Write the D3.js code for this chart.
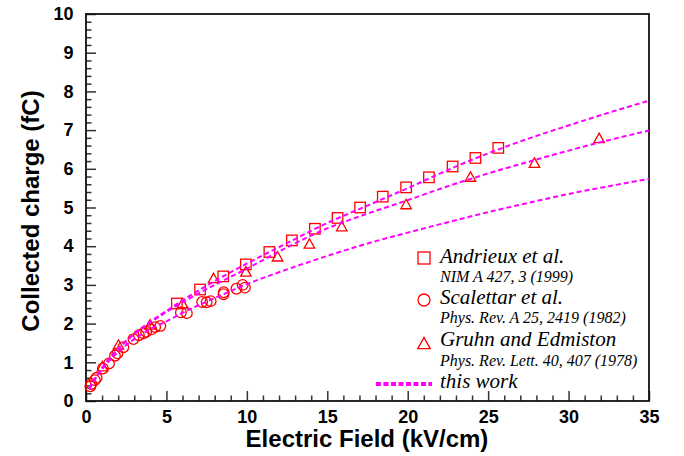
<!DOCTYPE html>
<html>
<head>
<meta charset="utf-8">
<script src="https://cdn.jsdelivr.net/npm/d3@7"></script>
<style>
  html, body { margin: 0; padding: 0; background: #fff; }
  svg { display: block; }
  .serif-label { font-family: "Liberation Serif", "Times New Roman", Times, "DejaVu Serif", serif; font-style: italic; }
</style>
</head>
<body>
<svg id="chart" width="684" height="456"></svg>
<script>
// Andrieux et al. (squares)
const andrieuxField  = [5.65, 7.09, 8.53, 9.94, 11.40, 12.80, 14.23, 15.64, 17.04, 18.45, 19.90, 21.32, 22.79, 24.21, 25.63];
const andrieuxCharge = [2.52, 2.88, 3.22, 3.53, 3.85, 4.15, 4.45, 4.73, 5.00, 5.28, 5.52, 5.78, 6.06, 6.28, 6.54];

// Scalettar et al. (circles)
const scalettarField  = [0.27, 0.33, 0.55, 0.66, 1.05, 1.43, 1.80, 1.95, 2.32, 2.95, 3.29, 3.58, 3.74, 4.06, 4.30, 4.62, 5.90, 6.27, 7.22, 7.50, 7.75, 8.55, 8.56, 9.35, 9.74, 9.88];
const scalettarCharge = [0.38, 0.44, 0.54, 0.60, 0.84, 0.97, 1.17, 1.23, 1.39, 1.60, 1.70, 1.75, 1.79, 1.85, 1.91, 1.94, 2.29, 2.27, 2.56, 2.55, 2.58, 2.76, 2.81, 2.90, 3.00, 2.93];

// Gruhn and Edmiston (triangles)
const gruhnField  = [1.02, 2.02, 3.98, 6.00, 7.93, 9.94, 11.91, 13.89, 15.90, 19.90, 23.90, 27.88, 31.90];
const gruhnCharge = [0.90, 1.46, 1.98, 2.53, 3.18, 3.35, 3.74, 4.07, 4.52, 5.09, 5.80, 6.16, 6.80];

// "this work" curves, sampled along the field axis
const curveField   = [0.2, 0.5, 1, 2, 3, 4, 5, 6, 8, 10, 12.5, 15, 17.5, 20, 22.5, 25, 27.5, 30, 32.5, 35];
const curveUpper   = [0.32, 0.54, 0.85, 1.35, 1.74, 2.05, 2.33, 2.60, 3.10, 3.55, 4.08, 4.60, 5.05, 5.50, 5.97, 6.40, 6.78, 7.12, 7.45, 7.76];
const curveMiddle  = [0.32, 0.54, 0.85, 1.35, 1.73, 2.03, 2.30, 2.55, 3.00, 3.42, 3.97, 4.46, 4.84, 5.19, 5.55, 5.88, 6.18, 6.47, 6.74, 6.99];
const curveLower   = [0.31, 0.52, 0.82, 1.27, 1.60, 1.86, 2.06, 2.28, 2.66, 3.02, 3.40, 3.75, 4.07, 4.35, 4.62, 4.88, 5.12, 5.35, 5.55, 5.74];

// Axis ticks
const fieldTicks  = [0, 5, 10, 15, 20, 25, 30, 35];
const chargeTicks = [0, 1, 2, 3, 4, 5, 6, 7, 8, 9, 10];

// Legend entries
const legendTitles = ["Andrieux et al.", "Scalettar et al.", "Gruhn and Edmiston"];
const legendRefs   = ["NIM A 427, 3 (1999)", "Phys. Rev. A 25, 2419 (1982)", "Phys. Rev. Lett. 40, 407 (1978)"];
const legendCurve  = "this work";
const xTitle = "Electric Field (kV/cm)";
const yTitle = "Collected charge (fC)";

const svg = d3.select("#chart");
const plotLeft = 86, plotRight = 649, plotTop = 14, plotBottom = 401;

const x = d3.scaleLinear().domain([0, 35]).range([plotLeft, plotRight]);
const y = d3.scaleLinear().domain([0, 10]).range([plotBottom, plotTop]);

const sans = "'Liberation Sans', Arial, Helvetica, sans-serif";
const red = "#ff0000";
const magenta = "#ff00ff";

// minor ticks
const minorX = d3.range(0, 35.001, 1).filter(v => v % 5 !== 0);
const minorY = d3.range(0, 10.001, 0.2).map(v => +v.toFixed(1)).filter(v => Math.abs(v - Math.round(v)) > 1e-6);

const gx = svg.append("g").attr("transform", `translate(0,${plotBottom})`);
gx.call(d3.axisBottom(x).tickValues(fieldTicks).tickFormat(d3.format("d"))
  .tickSizeInner(-10).tickSizeOuter(0).tickPadding(9));
const gxm = svg.append("g").attr("transform", `translate(0,${plotBottom})`);
gxm.call(d3.axisBottom(x).tickValues(minorX).tickFormat("").tickSizeInner(-5.5).tickSizeOuter(0));

const gy = svg.append("g").attr("transform", `translate(${plotLeft},0)`);
gy.call(d3.axisLeft(y).tickValues(chargeTicks).tickFormat(d3.format("d"))
  .tickSizeInner(-10).tickSizeOuter(0).tickPadding(12.5));
const gym = svg.append("g").attr("transform", `translate(${plotLeft},0)`);
gym.call(d3.axisLeft(y).tickValues(minorY).tickFormat("").tickSizeInner(-5.5).tickSizeOuter(0));

svg.selectAll(".domain").remove();
svg.selectAll(".tick line").attr("stroke", "#333").attr("stroke-width", 1.5);
svg.selectAll(".tick text")
  .attr("fill", "#000")
  .style("font-family", sans)
  .style("font-weight", "bold")
  .style("font-size", "18px");

// frame
svg.append("rect")
  .attr("x", plotLeft).attr("y", plotTop)
  .attr("width", plotRight - plotLeft).attr("height", plotBottom - plotTop)
  .attr("fill", "none").attr("stroke", "#111").attr("stroke-width", 1.8);

// axis titles
svg.append("text")
  .attr("x", 367).attr("y", 447)
  .attr("text-anchor", "middle")
  .style("font-family", sans).style("font-weight", "bold").style("font-size", "24px")
  .text(xTitle);

svg.append("text")
  .attr("transform", "translate(39,211) rotate(-90)")
  .attr("text-anchor", "middle")
  .style("font-family", sans).style("font-weight", "bold").style("font-size", "24px")
  .text(yTitle);

// marker shapes
const sqSize = 10.5, circR = 5.3, triSide = 10.5;
function drawSquare(g, cx, cy, s) {
  g.append("rect").attr("x", cx - s / 2).attr("y", cy - s / 2)
    .attr("width", s).attr("height", s)
    .attr("fill", "none").attr("stroke", red).attr("stroke-width", 1.3);
}
function drawCircle(g, cx, cy, r) {
  g.append("circle").attr("cx", cx).attr("cy", cy).attr("r", r)
    .attr("fill", "none").attr("stroke", red).attr("stroke-width", 1.3);
}
function drawTriangle(g, cx, cy, s) {
  const h = s * 0.9;
  g.append("path")
    .attr("d", `M${cx},${cy - h / 2}L${cx + s / 2},${cy + h / 2}L${cx - s / 2},${cy + h / 2}Z`)
    .attr("fill", "none").attr("stroke", red).attr("stroke-width", 1.3);
}

const marks = svg.append("g");
andrieuxField.forEach((e, i) => drawSquare(marks, x(e), y(andrieuxCharge[i]), sqSize));
scalettarField.forEach((e, i) => drawCircle(marks, x(e), y(scalettarCharge[i]), circR));
gruhnField.forEach((e, i) => drawTriangle(marks, x(e), y(gruhnCharge[i]), triSide));

// dashed model curves
const line = d3.line().x(d => x(d[0])).y(d => y(d[1])).curve(d3.curveMonotoneX);
[curveUpper, curveMiddle, curveLower].forEach(vals => {
  svg.append("path")
    .datum(curveField.map((e, i) => [e, vals[i]]))
    .attr("d", line)
    .attr("fill", "none")
    .attr("stroke", magenta)
    .attr("stroke-width", 2)
    .attr("stroke-dasharray", "5,3");
});

// legend
const lg = svg.append("g");
const markerX = 424;
const titleY = [263, 304, 346];
const refY = [282, 323, 366];
const markerY = [258, 300, 343];
drawSquare(lg, markerX, markerY[0], 12);
drawCircle(lg, markerX, markerY[1], 6);
drawTriangle(lg, markerX, markerY[2], 12.5);
legendTitles.forEach((t, i) => {
  lg.append("text").attr("class", "serif-label").attr("x", 440).attr("y", titleY[i])
    .attr("font-size", 21)
    .text(t);
  lg.append("text").attr("class", "serif-label").attr("x", 440).attr("y", refY[i])
    .attr("font-size", 16)
    .text(legendRefs[i]);
});
lg.append("line")
  .attr("x1", 376).attr("x2", 432).attr("y1", 384).attr("y2", 384)
  .attr("stroke", magenta).attr("stroke-width", 4).attr("stroke-dasharray", "5,2.5");
lg.append("text").attr("class", "serif-label").attr("x", 440).attr("y", 388)
  .attr("font-size", 21)
  .text(legendCurve);
</script>
</body>
</html>
